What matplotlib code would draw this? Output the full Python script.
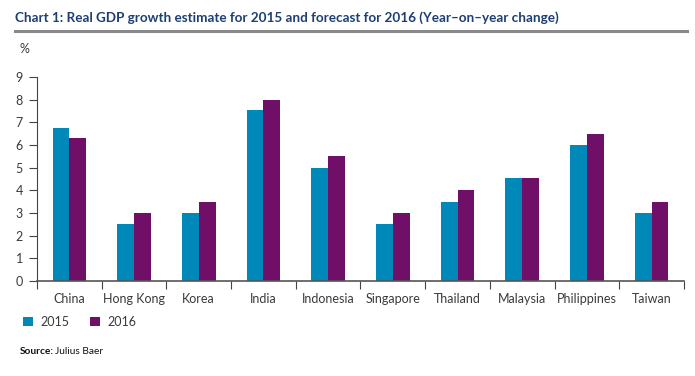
import matplotlib
matplotlib.use("Agg")
import matplotlib.pyplot as plt
import numpy as np

countries = ["China", "Hong Kong", "Korea", "India", "Indonesia", "Singapore",
             "Thailand", "Malaysia", "Philippines", "Taiwan"]
gdp_2015 = [6.75, 2.5, 3.0, 7.55, 5.0, 2.5, 3.5, 4.55, 6.0, 3.0]
gdp_2016 = [6.3, 3.0, 3.5, 8.0, 5.5, 3.0, 4.0, 4.55, 6.5, 3.5]
yticks = list(range(0, 10))

c2015 = "#0088b9"
c2016 = "#6f0f67"
textc = "#3a3a3a"

plt.rcParams["font.family"] = ["Lato", "DejaVu Sans"]

fig = plt.figure(figsize=(6.95, 3.76), dpi=100)
ax = fig.add_axes([0.0532, 0.2527, 0.931, 0.5426])

x = np.arange(len(countries))
w = 0.26
ax.bar(x - w / 2, gdp_2015, w, color=c2015, label="2015")
ax.bar(x + w / 2, gdp_2016, w, color=c2016, label="2016")

ax.set_xlim(-0.5, len(countries) - 0.5)
ax.set_ylim(0, 9)
ax.set_yticks(yticks)
ax.set_yticklabels([str(t) for t in yticks], color=textc, fontsize=9)

# category ticks at group boundaries, labels at centres
ax.set_xticks(np.arange(-0.5, len(countries), 1.0))
ax.set_xticklabels([])
ax.set_xticks(x, minor=True)
ax.set_xticklabels(countries, minor=True, color=textc, fontsize=9)
ax.tick_params(axis="x", which="major", length=6, width=0.8, color="#444444", direction="out")
ax.tick_params(axis="x", which="minor", length=0, pad=9)
ax.tick_params(axis="y", length=6, width=0.8, color="#444444", pad=4)

for s in ["top", "right"]:
    ax.spines[s].set_visible(False)
ax.spines["left"].set_color("#444444")
ax.spines["bottom"].set_color("#555555")
ax.spines["left"].set_linewidth(0.8)
ax.spines["bottom"].set_linewidth(1.2)

fig.text(15 / 695, 1 - 18 / 376, "Chart 1: Real GDP growth estimate for 2015 and forecast for 2016 (Year\u2013on\u2013year change)",
         fontsize=9.7, fontweight="bold", color="#1d3f73", va="center", ha="left")
fig.add_artist(plt.Line2D([15 / 695, 687 / 695], [1 - 31 / 376] * 2, color="#8a8a8a", lw=2.2))
fig.text(20 / 695, 1 - 49 / 376, "%", fontsize=9, color=textc, va="center", ha="left")

leg = fig.legend(loc="center left", bbox_to_anchor=(12 / 695, 1 - 322 / 376), ncol=2, frameon=False,
                 fontsize=9, handlelength=0.8, handleheight=0.8,
                 handletextpad=0.6, columnspacing=1.6)
for t in leg.get_texts():
    t.set_color(textc)

fig.text(20 / 695, 1 - 351 / 376, "Source:", fontsize=7.3, fontweight="bold", color="#111111", va="center")
fig.text(55 / 695, 1 - 351 / 376, "Julius Baer", fontsize=7.3, color="#111111", va="center")

fig.savefig("out.png", dpi=100)
